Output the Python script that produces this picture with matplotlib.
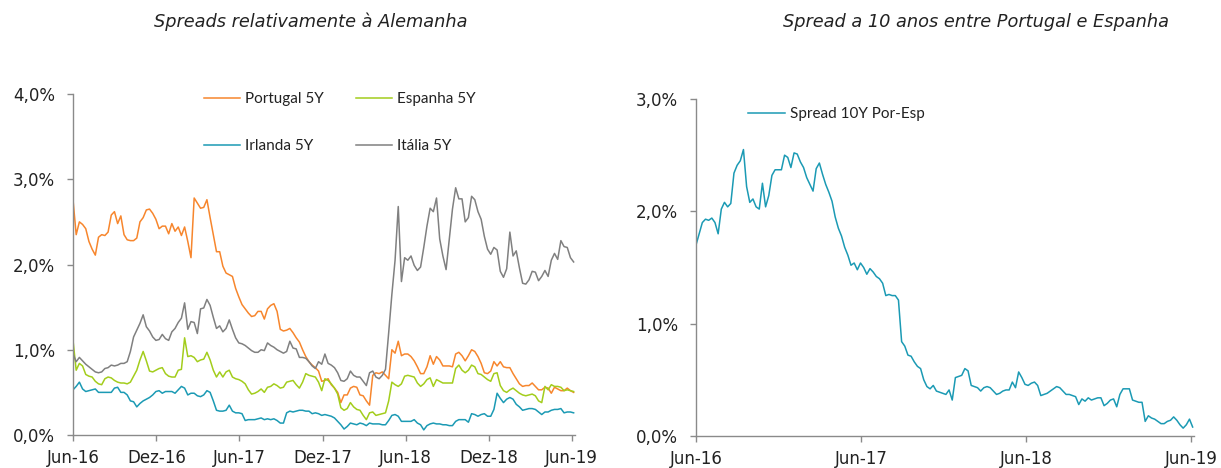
import pandas as pd
import matplotlib
matplotlib.use('Agg')
import matplotlib.pyplot as plt
from matplotlib.ticker import FuncFormatter, MultipleLocator

# weekly observations, jun-2016 .. jun-2019
dates = pd.date_range('2016-06-01', periods=158, freq='7D')

# spreads vs Germany, 5Y (%)
pt5 = [2.76, 2.35, 2.50, 2.47, 2.42, 2.27, 2.18, 2.11, 2.32, 2.35,
       2.34, 2.38, 2.58, 2.62, 2.48, 2.57, 2.35, 2.29, 2.28, 2.28,
       2.31, 2.50, 2.55, 2.64, 2.65, 2.60, 2.53, 2.42, 2.45, 2.45,
       2.36, 2.48, 2.39, 2.44, 2.34, 2.44, 2.27, 2.08, 2.78, 2.72,
       2.66, 2.67, 2.76, 2.55, 2.35, 2.15, 2.15, 1.98, 1.90, 1.88,
       1.86, 1.72, 1.62, 1.53, 1.48, 1.43, 1.39, 1.40, 1.45, 1.45,
       1.36, 1.48, 1.52, 1.54, 1.45, 1.24, 1.22, 1.23, 1.25, 1.20,
       1.14, 1.09, 1.00, 0.92, 0.86, 0.82, 0.79, 0.75, 0.63, 0.64,
       0.66, 0.59, 0.55, 0.50, 0.38, 0.47, 0.47, 0.55, 0.57, 0.56,
       0.47, 0.46, 0.40, 0.35, 0.70, 0.73, 0.72, 0.74, 0.70, 0.66,
       1.00, 0.96, 1.10, 0.93, 0.95, 0.95, 0.92, 0.87, 0.80, 0.72,
       0.72, 0.80, 0.93, 0.83, 0.92, 0.88, 0.81, 0.81, 0.81, 0.80,
       0.95, 0.97, 0.93, 0.87, 0.93, 1.00, 0.98, 0.92, 0.84, 0.73,
       0.72, 0.75, 0.86, 0.81, 0.86, 0.80, 0.79, 0.79, 0.72, 0.66,
       0.60, 0.57, 0.58, 0.58, 0.61, 0.57, 0.53, 0.53, 0.56, 0.55,
       0.49, 0.56, 0.54, 0.52, 0.52, 0.55, 0.52, 0.50]

es5 = [1.11, 0.76, 0.84, 0.81, 0.71, 0.69, 0.68, 0.63, 0.60, 0.59,
       0.66, 0.68, 0.67, 0.64, 0.62, 0.61, 0.61, 0.60, 0.62, 0.69,
       0.76, 0.88, 0.98, 0.87, 0.75, 0.74, 0.76, 0.78, 0.79, 0.72,
       0.69, 0.68, 0.68, 0.76, 0.77, 1.14, 0.92, 0.93, 0.91, 0.86,
       0.88, 0.89, 0.97, 0.88, 0.76, 0.68, 0.74, 0.68, 0.74, 0.76,
       0.68, 0.66, 0.65, 0.63, 0.60, 0.53, 0.48, 0.49, 0.51, 0.54,
       0.50, 0.56, 0.57, 0.60, 0.58, 0.55, 0.56, 0.62, 0.63, 0.64,
       0.59, 0.55, 0.62, 0.72, 0.70, 0.69, 0.68, 0.62, 0.52, 0.66,
       0.64, 0.60, 0.55, 0.48, 0.32, 0.29, 0.31, 0.38, 0.33, 0.30,
       0.29, 0.23, 0.18, 0.26, 0.27, 0.23, 0.24, 0.25, 0.26, 0.40,
       0.62, 0.59, 0.57, 0.60, 0.69, 0.70, 0.69, 0.68, 0.61, 0.57,
       0.60, 0.65, 0.67, 0.57, 0.65, 0.63, 0.61, 0.61, 0.61, 0.61,
       0.78, 0.82, 0.76, 0.73, 0.76, 0.82, 0.80, 0.72, 0.71, 0.68,
       0.65, 0.63, 0.72, 0.73, 0.58, 0.52, 0.50, 0.53, 0.55, 0.52,
       0.49, 0.47, 0.46, 0.47, 0.48, 0.46, 0.40, 0.38, 0.57, 0.53,
       0.59, 0.57, 0.57, 0.56, 0.52, 0.53, 0.52, 0.51]

ie5 = [0.53, 0.57, 0.62, 0.54, 0.51, 0.52, 0.53, 0.54, 0.50, 0.50,
       0.50, 0.50, 0.50, 0.55, 0.56, 0.50, 0.50, 0.47, 0.40, 0.39,
       0.33, 0.37, 0.40, 0.42, 0.44, 0.47, 0.51, 0.52, 0.49, 0.51,
       0.51, 0.51, 0.49, 0.53, 0.57, 0.55, 0.47, 0.49, 0.49, 0.46,
       0.45, 0.47, 0.52, 0.50, 0.40, 0.29, 0.28, 0.28, 0.29, 0.35,
       0.28, 0.26, 0.26, 0.25, 0.17, 0.18, 0.18, 0.18, 0.19, 0.20,
       0.18, 0.19, 0.18, 0.19, 0.17, 0.14, 0.14, 0.26, 0.28, 0.27,
       0.28, 0.29, 0.29, 0.28, 0.28, 0.25, 0.26, 0.25, 0.23, 0.24,
       0.23, 0.22, 0.20, 0.16, 0.12, 0.07, 0.10, 0.14, 0.13, 0.12,
       0.14, 0.13, 0.11, 0.14, 0.13, 0.13, 0.13, 0.12, 0.12, 0.17,
       0.23, 0.24, 0.22, 0.16, 0.16, 0.16, 0.16, 0.18, 0.14, 0.12,
       0.06, 0.11, 0.13, 0.14, 0.13, 0.13, 0.12, 0.12, 0.11, 0.11,
       0.16, 0.18, 0.18, 0.18, 0.15, 0.25, 0.24, 0.22, 0.24, 0.25,
       0.22, 0.22, 0.30, 0.49, 0.43, 0.38, 0.42, 0.44, 0.42, 0.36,
       0.33, 0.29, 0.30, 0.31, 0.31, 0.30, 0.27, 0.24, 0.27, 0.27,
       0.29, 0.30, 0.30, 0.31, 0.26, 0.27, 0.27, 0.26]

it5 = [0.95, 0.86, 0.91, 0.87, 0.83, 0.80, 0.77, 0.74, 0.73, 0.74,
       0.78, 0.79, 0.82, 0.81, 0.82, 0.84, 0.84, 0.86, 0.98, 1.15,
       1.23, 1.31, 1.41, 1.27, 1.22, 1.15, 1.11, 1.12, 1.18, 1.13,
       1.11, 1.21, 1.25, 1.32, 1.37, 1.55, 1.24, 1.33, 1.32, 1.19,
       1.48, 1.49, 1.59, 1.52, 1.38, 1.25, 1.28, 1.21, 1.25, 1.35,
       1.24, 1.14, 1.08, 1.07, 1.05, 1.02, 0.99, 0.97, 0.97, 1.00,
       0.99, 1.08, 1.05, 1.03, 1.00, 0.98, 0.96, 0.98, 1.10, 1.02,
       1.01, 0.91, 0.91, 0.90, 0.86, 0.81, 0.78, 0.86, 0.83, 0.95,
       0.84, 0.82, 0.79, 0.73, 0.64, 0.63, 0.66, 0.75, 0.70, 0.68,
       0.68, 0.63, 0.58, 0.73, 0.75, 0.68, 0.66, 0.70, 0.77, 1.20,
       1.65, 2.05, 2.68, 1.80, 2.08, 2.05, 2.10, 1.99, 1.93, 1.97,
       2.20, 2.45, 2.66, 2.62, 2.78, 2.30, 2.10, 1.94, 2.30, 2.65,
       2.90, 2.77, 2.77, 2.50, 2.55, 2.80, 2.76, 2.62, 2.53, 2.33,
       2.18, 2.12, 2.20, 2.17, 1.92, 1.85, 1.95, 2.38, 2.10, 2.16,
       1.96, 1.78, 1.77, 1.82, 1.92, 1.91, 1.81, 1.86, 1.93, 1.86,
       2.05, 2.13, 2.06, 2.28, 2.21, 2.20, 2.08, 2.03]

# 10Y spread Portugal - Spain (%)
sp10 = [1.70, 1.80, 1.90, 1.93, 1.92, 1.94, 1.90, 1.80, 2.02, 2.08,
        2.04, 2.07, 2.34, 2.41, 2.45, 2.55, 2.22, 2.08, 2.11, 2.04,
        2.02, 2.25, 2.04, 2.14, 2.32, 2.37, 2.37, 2.37, 2.50, 2.48,
        2.39, 2.52, 2.51, 2.44, 2.39, 2.30, 2.24, 2.18, 2.38, 2.43,
        2.33, 2.24, 2.17, 2.09, 1.95, 1.85, 1.78, 1.68, 1.61, 1.52,
        1.54, 1.48, 1.54, 1.50, 1.44, 1.49, 1.46, 1.42, 1.40, 1.36,
        1.25, 1.26, 1.25, 1.25, 1.21, 0.84, 0.80, 0.72, 0.71, 0.66,
        0.62, 0.60, 0.50, 0.44, 0.42, 0.45, 0.40, 0.39, 0.38, 0.37,
        0.41, 0.32, 0.52, 0.53, 0.54, 0.60, 0.58, 0.45, 0.44, 0.43,
        0.40, 0.43, 0.44, 0.43, 0.40, 0.37, 0.38, 0.40, 0.41, 0.41,
        0.48, 0.43, 0.57, 0.52, 0.46, 0.45, 0.47, 0.48, 0.45, 0.36,
        0.37, 0.38, 0.40, 0.42, 0.44, 0.43, 0.40, 0.37, 0.37, 0.36,
        0.35, 0.28, 0.33, 0.31, 0.34, 0.32, 0.33, 0.34, 0.34, 0.27,
        0.29, 0.32, 0.33, 0.26, 0.37, 0.42, 0.42, 0.42, 0.32, 0.31,
        0.30, 0.30, 0.13, 0.18, 0.16, 0.15, 0.13, 0.11, 0.11, 0.13,
        0.14, 0.17, 0.14, 0.10, 0.07, 0.10, 0.15, 0.08]

left_ticks = ['2016-06-01', '2016-12-01', '2017-06-01', '2017-12-01',
              '2018-06-01', '2018-12-01', '2019-06-01']
right_ticks = ['2016-06-01', '2017-06-01', '2018-06-01', '2019-06-01']
months = {6: 'Jun', 12: 'Dez'}

c_pt = '#f7862d'
c_es = '#a3cd1c'
c_ie = '#1b9ab4'
c_it = '#808080'
axis_col = '#8a8a8a'
txt_col = '#222222'


def pct(v, pos):
    return ('%.1f%%' % v).replace('.', ',')


def setup(ax, ticks, ymax):
    for s in ['top', 'right']:
        ax.spines[s].set_visible(False)
    for s in ['left', 'bottom']:
        ax.spines[s].set_color(axis_col)
        ax.spines[s].set_linewidth(1.0)
    ax.set_xlim(pd.Timestamp('2016-06-01'), pd.Timestamp('2019-06-08'))
    ax.set_ylim(0, ymax)
    ax.yaxis.set_major_locator(MultipleLocator(1))
    ax.yaxis.set_major_formatter(FuncFormatter(pct))
    tk = pd.to_datetime(ticks)
    ax.set_xticks(tk)
    ax.set_xticklabels(['%s-%s' % (months[t.month], str(t.year)[2:]) for t in tk])
    ax.tick_params(axis='both', direction='out', length=4, width=1.0,
                   color=axis_col, labelsize=12, labelcolor=txt_col)
    ax.tick_params(axis='y', pad=9)
    ax.tick_params(axis='x', pad=6)


fig = plt.figure(figsize=(12.21, 4.68), dpi=100)
W, H = 1221.0, 468.0
ax1 = fig.add_axes([73 / W, 1 - 435 / H, (575 - 73) / W, (435 - 94) / H])
ax2 = fig.add_axes([696 / W, 1 - 436 / H, (1194 - 696) / W, (436 - 99) / H])

lw = 1.1
l_pt, = ax1.plot(dates, pt5, color=c_pt, lw=lw, label='Portugal 5Y')
l_es, = ax1.plot(dates, es5, color=c_es, lw=lw, label='Espanha 5Y')
l_ie, = ax1.plot(dates, ie5, color=c_ie, lw=lw, label='Irlanda 5Y')
l_it, = ax1.plot(dates, it5, color=c_it, lw=lw, label='Itália 5Y')
setup(ax1, left_ticks, 4)

l_sp, = ax2.plot(dates, sp10, color=c_ie, lw=lw, label='Spread 10Y Por-Esp')
setup(ax2, right_ticks, 3)

legfont = {'family': 'Lato', 'size': 11}
leg1 = fig.legend([l_pt, l_ie, l_es, l_it],
                  ['Portugal 5Y', 'Irlanda 5Y', 'Espanha 5Y', 'Itália 5Y'],
                  loc='upper left', bbox_to_anchor=(204 / W, 1 - 92 / H),
                  ncol=2, frameon=False, prop=legfont, handlelength=2.35,
                  handletextpad=0.35, columnspacing=2.1, labelspacing=2.15,
                  borderpad=0, borderaxespad=0)
leg2 = fig.legend([l_sp], ['Spread 10Y Por-Esp'], loc='upper left',
                  bbox_to_anchor=(748 / W, 1 - 107 / H), frameon=False,
                  prop=legfont, handlelength=2.4, handletextpad=0.35,
                  borderpad=0, borderaxespad=0)
for leg in [leg1, leg2]:
    for t in leg.get_texts():
        t.set_color(txt_col)

# titles
fig.text(311 / W, 1 - 22 / H, 'Spreads relativamente à Alemanha',
         ha='center', va='center', fontsize=12.8, style='italic', color=txt_col)
fig.text(976 / W, 1 - 22 / H, 'Spread a 10 anos entre Portugal e Espanha',
         ha='center', va='center', fontsize=12.8, style='italic', color=txt_col)

fig.savefig('out.png', dpi=100)
